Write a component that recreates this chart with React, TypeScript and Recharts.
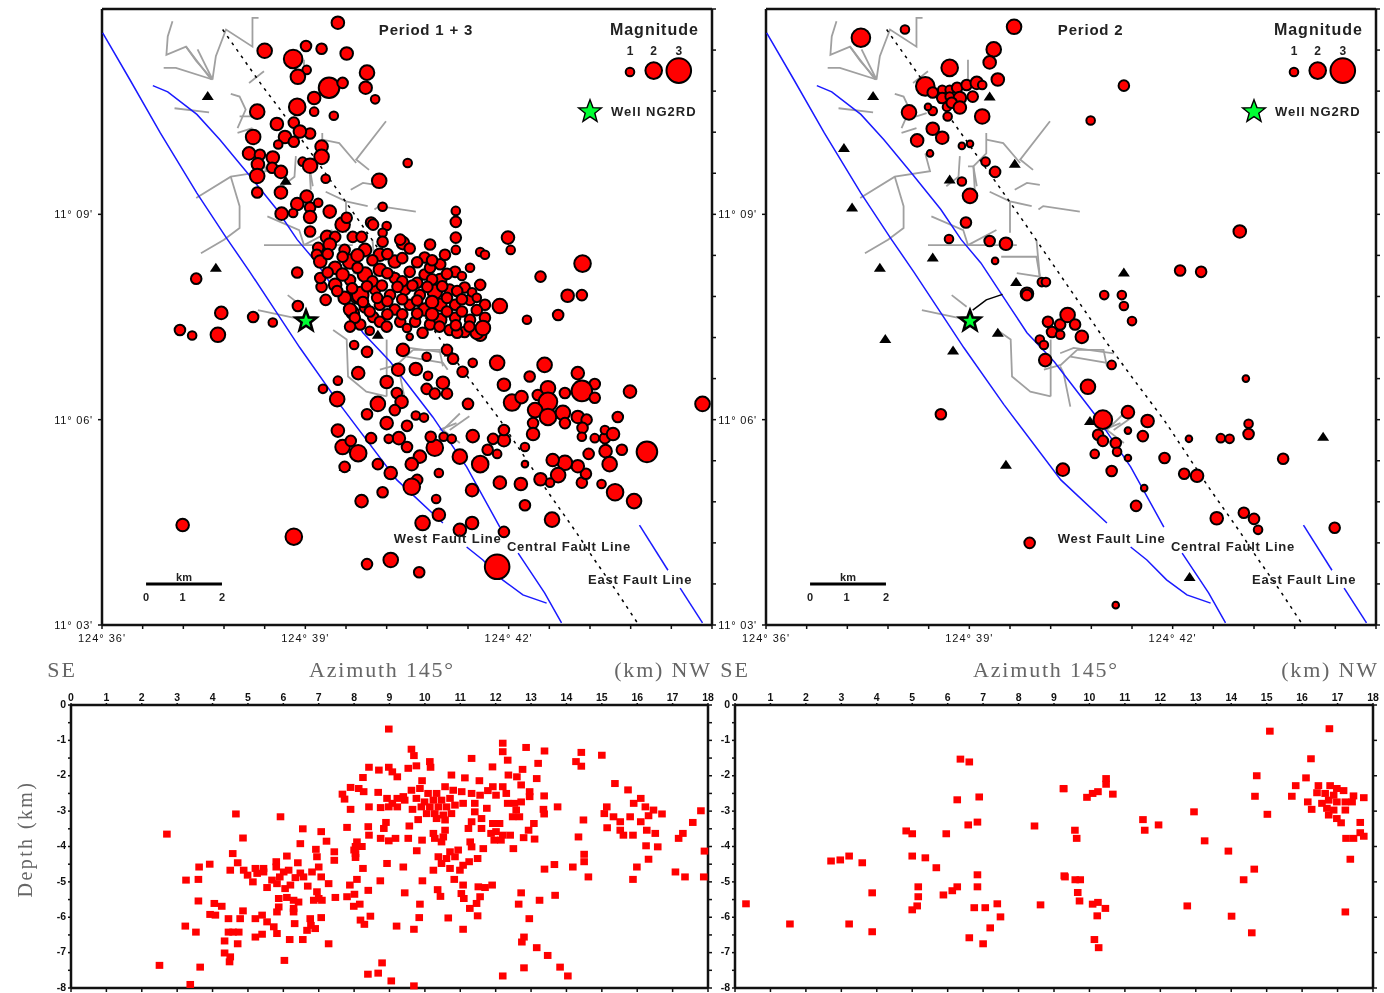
import React from 'react';
import { ScatterChart, Scatter, XAxis, YAxis } from 'recharts';

// ---- map events: [lon minutes past 124°, lat minutes past 11°, magnitude]
const eventsNorthP13 = [[39.48,11.8,1.5],[38.4,11.39,1.75],[39.01,11.46,1.25],[39.24,11.42,1.25],[39.61,11.35,1.5],[38.82,11.27,2.25],[39.02,11.11,1],[38.89,11.01,1.75],[39.91,11.07,1.75],[39.89,10.85,1.5],[39.35,10.85,2.5],[39.55,10.92,1.25],[39.13,10.7,1.5],[38.88,10.57,2],[39.13,10.5,1],[40.03,10.68,1],[38.29,10.5,1.75],[39.42,10.44,1],[38.58,10.32,1.5],[38.83,10.34,1.25],[38.23,10.13,1.75],[39.07,10.18,1.25],[38.92,10.21,1.5],[38.7,10.13,1.5],[38.83,10.06,1.25],[38.6,10.02,1],[39.24,9.99,1.5],[38.17,9.89,1.5],[38.33,9.87,1.25],[38.52,9.83,1.5],[38.3,9.73,1.5],[39.24,9.84,1.75],[38.96,9.77,1],[39.07,9.71,1.75],[38.51,9.68,1.25],[38.64,9.62,1.5],[38.29,9.56,1.75],[39.3,9.52,1],[38.29,9.32,1.25],[38.64,9.32,1.5],[39.02,9.26,1.5],[38.88,9.15,1.5],[38.82,9.02,1],[38.65,9.01,1.5],[39.07,9.1,1.25],[39.07,8.96,1.5],[39.19,9.17,1],[39.36,9.04,1.5],[39.55,8.85,1.75],[39.61,8.95,1.25],[39.97,8.88,1.25],[40.2,8.83,1],[40.09,9.49,1.75],[40.14,9.11,1],[40.51,9.75,1]];
const eventsCentreP13 = [[39.07,8.75,1.25],[39.32,8.67,1.5],[39.44,8.67,1.25],[39.7,8.67,1.25],[39.83,8.67,1.25],[40.14,8.73,1],[40.14,8.6,1.25],[40.44,8.58,1.5],[39.19,8.51,1.25],[39.17,8.41,1.25],[38.88,8.15,1.25],[37.39,8.06,1.25],[37.76,7.56,1.5],[38.23,7.5,1.25],[38.89,7.66,1.25],[39.24,7.94,1.25],[39.3,7.75,1.25],[39.78,7.81,2],[39.7,7.56,1.5],[40,7.5,1.25],[37.15,7.31,1.25],[37.33,7.23,1],[37.71,7.24,1.75],[38.52,7.42,1],[41.22,9.05,1],[41.22,8.89,1.25],[41.22,8.66,1.25],[41.22,8.48,1],[41.58,8.45,1],[41.99,8.66,1.5],[42.03,8.48,1],[42.47,8.09,1.25],[43.09,8.28,2],[42.87,7.81,1.5],[43.08,7.82,1.25],[42.73,7.53,1.25],[42.27,7.46,1],[41.87,7.66,1.75],
[39.36,8.56,1.5],[39.58,8.48,1.25],[39.22,8.31,1.5],[39.44,8.22,1.5],[39.66,8.31,1.75],[39.88,8.48,1.5],[40.1,8.41,1.5],[40.32,8.31,1.5],[40.54,8.5,1.25],[40.76,8.37,1.25],[40.99,8.27,1.25],[39.22,8.07,1.25],[39.44,7.97,1.5],[39.66,8.04,1.25],[39.88,8.12,1.75],[40.1,8.19,1.5],[40.32,8.07,1.25],[40.54,8.16,1.25],[40.76,8.12,1.25],[40.99,8.04,1.5],[41.21,8.16,1.25],[41.43,8.22,1],[41.65,8.41,1],[39.58,7.78,1.5],[39.81,7.82,2],[40.03,7.9,1.25],[40.25,7.82,1.25],[40.47,7.9,1.25],[40.69,7.82,1.25],[40.91,7.87,1.75],[41.13,7.9,1.25],[41.35,7.93,1.25],[41.58,7.97,1.25],[39.66,7.61,1.5],[39.88,7.64,1.25],[40.1,7.68,1.25],[40.32,7.61,1.25],[40.54,7.68,1.25],[40.76,7.61,1.5],[40.99,7.68,1.5],[41.21,7.68,1.25],[41.43,7.75,1.25],[41.65,7.68,1.25],[40.99,7.46,1.5],[41.21,7.49,1.25],[41.43,7.46,1.25],[41.65,7.49,1.25],[41.13,7.31,1.25],[41.35,7.28,1.25],[41.58,7.24,1.5],[40.84,7.39,1.25],[40.62,7.43,1.25],[40.4,7.43,1.25],[40.1,7.43,1.25],[39.81,7.39,1.25],[39.73,7.49,1.25],[40.84,8.22,1.25],[41.06,8.41,1.25],[40.84,8.56,1.25],[40.4,8.63,1.25],[40,8.85,1.25],[39.66,7.36,1.25],[40.2,7.36,1.25],[40.73,7.27,1.25],[40.44,7.02,1.5],[39.91,6.99,1.25],[39.72,7.09,1],[40.79,6.92,1],[41.09,7.02,1.25],[41.18,6.89,1.25],[40.54,7.21,0.75],[41.24,7.27,1.25],[41.53,7.27,1.5],[41.62,7.34,1.75]];
const eventsClusterP13 = [[39.33,8.42,1.25],[39.55,8.38,1.25],[39.77,8.4,1.5],[39.99,8.33,1.25],[40.21,8.42,1.25],[40.43,8.36,1.25],[40.65,8.3,1.25],[40.87,8.33,1.25],[39.33,8.15,1.25],[39.55,8.12,1.5],[39.77,8.22,1.25],[39.99,8.02,1.25],[40.21,8.14,1.25],[40.43,8.02,1.25],[40.65,8,1.25],[40.87,8.05,1.25],[41.09,8.13,1.25],[41.31,8.1,1],[39.47,7.88,1.25],[39.69,7.92,1.25],[39.91,7.95,1.25],[40.13,7.96,1.25],[40.36,7.94,1.25],[40.58,7.96,1.25],[40.8,7.94,1.25],[41.02,7.95,1.25],[41.24,7.88,1.25],[41.46,7.86,1],[39.85,7.72,1.25],[40.06,7.78,1.25],[40.21,7.73,1.25],[40.43,7.76,1.25],[40.65,7.74,1.25],[40.87,7.72,1.5],[41.09,7.78,1.25],[41.31,7.76,1.25],[41.53,7.78,1],[39.95,7.58,1.25],[40.21,7.54,1.25],[40.43,7.54,1.25],[40.65,7.55,1.25],[40.87,7.54,1.5],[41.09,7.58,1.25],[41.31,7.58,1.25],[41.53,7.6,1.25],[40.98,7.36,1.25],[41.22,7.38,1.25],[41.42,7.36,1.25],[40.5,7.34,1],[39.95,7.3,1]];
const eventsSouthP13 = [[41.83,6.83,1.75],[41.47,6.83,1],[42.53,6.8,1.75],[42.31,6.63,1.25],[41.32,6.7,1.25],[41.93,6.51,1.5],[39.78,6.68,1.5],[39.48,6.57,1],[39.26,6.45,1],[39.47,6.3,1.75],[40.2,6.55,1.5],[40.37,6.73,1.5],[40.63,6.74,1.5],[40.81,6.64,1],[41.03,6.54,1.5],[40.79,6.45,1.25],[40.91,6.38,1.25],[41.09,6.38,1.25],[41.4,6.23,1.25],[42.05,6.25,2],[42.19,6.33,1.5],[43.79,6.41,1.5],[44.86,6.23,1.75],[43.02,6.68,1.5],[43.27,6.52,1.25],[43.08,6.42,2.5],[42.58,6.46,1.75],[42.43,6.36,1.25],[42.83,6.39,1.25],[42.58,6.26,2.25],[42.39,6.14,1.75],[42.58,6.04,2],[42.8,6.1,1.75],[43.02,6.04,1.5],[43.27,6.32,1.25],[43.15,6,1.25],[42.83,5.95,1.25],[42.36,5.95,1.25],[42.36,5.79,1.5],[43.09,5.88,1.25],[43.08,5.75,1],[43.27,5.73,1],[43.42,5.73,1.25],[43.42,5.85,1],[43.54,5.79,1.5],[43.61,6.04,1.25],[43.43,5.54,1.5],[43.67,5.56,1.25],[43.18,5.5,1.25],[43.49,5.35,1.75],[44.04,5.53,2.5],[43.37,5.06,1],[43.57,4.94,2],[43.85,4.81,1.75],[43.08,5.08,1.25],[43.14,5.21,1.25],[43.02,5.32,1.5],[42.83,5.37,1.75],[42.65,5.41,1.5],[42.73,5.19,1.75],[42.47,5.13,1.5],[42.61,5.08,1],[42.18,5.06,1.5],[41.87,5.08,1.5],[42.24,4.75,1.25],[42.64,4.54,1.75],[41.93,5.7,1.5],[41.93,5.85,1.25],[41.77,5.72,1.25],[41.69,5.56,1.25],[41.83,5.5,1],[41.47,5.76,1.5],[42.24,5.6,1],[42.24,5.35,0.75],[41.58,5.35,2],[41.28,5.46,1.75],[40.91,5.59,2],[40.85,5.75,1.25],[41.04,5.75,1],[41.16,5.72,1],[40.69,5.46,1.5],[40.57,5.35,1.5],[40.65,5.12,1.25],[40.57,5.02,2],[40.97,5.22,1],[40.26,5.22,1.5],[40.07,5.35,1.25],[39.78,5.51,2],[39.55,5.6,1.75],[39.67,5.69,1.25],[39.48,5.84,1.5],[39.97,5.73,1.25],[40.2,5.95,1.5],[40.07,6.23,1.75],[39.91,6.08,1.25],[40.35,6.39,1.25],[40.42,6.26,1.5],[40.32,6.14,1.25],[40.63,6.06,1],[40.75,6.03,1],[40.5,5.91,1.25],[40.38,5.73,1.5],[40.5,5.6,1.25],[40.23,5.72,1],[39.58,5.31,1.25],[39.83,4.81,1.5],[40.14,4.94,1.25],[40.93,4.84,1],[41.46,4.97,1.5],[40.97,4.61,1.5],[40.73,4.49,1.75],[41.28,4.39,1.5],[41.46,4.49,1.5],[41.93,4.36,1.25],[41.83,3.85,3],[39.91,3.89,1.25],[40.26,3.95,1.75],[40.68,3.77,1.25],[38.83,4.29,2],[37.19,4.46,1.5]];
const eventsP2 = [[38.05,11.7,1],[37.4,11.58,2.25],[39.66,11.74,1.75],[39.36,11.41,1.75],[39.3,11.22,1.5],[38.71,11.14,2],[39.42,10.97,1.5],[38.35,10.87,2.25],[38.46,10.78,1.25],[38.6,10.82,1],[38.71,10.82,1],[38.82,10.85,1.25],[38.96,10.89,1.25],[39.11,10.92,1.5],[39.19,10.89,1],[38.6,10.7,1.25],[38.71,10.72,1],[38.86,10.7,1.5],[39.05,10.72,1.25],[38.67,10.57,1],[38.74,10.63,1.25],[38.86,10.56,1.5],[38.68,10.43,1],[38.46,10.51,1],[38.39,10.57,0.75],[38.11,10.49,1.75],[39.19,10.43,1.75],[38.46,10.25,1.5],[38.6,10.12,1.5],[38.23,10.08,1.5],[38.42,9.89,0.75],[38.89,10,0.75],[39.01,10.03,0.75],[39.24,9.77,1],[39.38,9.62,1.25],[38.89,9.48,1],[39.01,9.27,1.75],[38.95,8.88,1.25],[38.7,8.64,1],[39.3,8.61,1.25],[39.54,8.57,1.5],[39.38,8.32,0.75],[40.07,8.01,1],[39.85,7.84,1.5],[40.16,7.43,1.25],[40.34,7.39,1.25],[40.45,7.53,1.75],[40.56,7.39,1.25],[40.04,7.17,1],[40.22,7.28,1.25],[40.66,7.21,1.5],[40.12,6.87,1.5],[40.1,7.09,1],[40.34,7.24,1],[41.1,6.8,1],[39.85,7.82,1.25],[40.13,8.01,1],[40.99,7.82,1],[41.25,7.82,1],[41.28,7.66,1],[41.4,7.44,1],[42.11,8.18,1.25],[42.42,8.16,1.25],[42.99,8.75,1.5],[41.28,10.88,1.25],[40.79,10.37,1],[40.75,6.48,1.75],[41.34,6.11,1.5],[41.63,5.98,1.5],[40.97,6,2.25],[41.34,5.84,0.75],[41.56,5.76,1.25],[40.9,5.78,1.25],[40.97,5.69,1.25],[41.16,5.66,1.25],[41.18,5.53,1],[40.85,5.5,1],[41.34,5.44,0.75],[41.88,5.44,1.25],[41.1,5.25,1.25],[40.38,5.27,1.5],[41.58,5,0.75],[41.46,4.74,1.25],[42.24,5.72,0.75],[42.71,5.73,1],[42.84,5.72,1],[43.08,6.6,0.75],[43.12,5.94,1],[43.12,5.79,1.25],[43.63,5.43,1.25],[42.17,5.21,1.25],[42.36,5.18,1.5],[42.65,4.56,1.5],[43.05,4.64,1.25],[43.2,4.55,1.25],[43.26,4.39,1],[44.39,4.42,1.25],[41.16,3.29,0.75],[39.89,4.2,1.25],[38.58,6.08,1.25]];

// ---- stations
const stationsP13 = [[37.56,10.73],[37.68,8.22],[38.71,9.49],[39.58,5.31],[40.07,7.24],[41.13,6.98]];
const stationsP2 = [[37.58,10.73],[37.15,9.97],[37.27,9.1],[38.46,8.37],[37.68,8.22],[39.67,9.74],[38.71,9.51],[39.69,8.01],[37.76,7.18],[38.76,7.01],[39.42,7.27],[39.54,5.34],[40.78,5.98],[44.22,5.75],[42.25,3.7],[39.3,10.72],[41.28,8.15]];

// ---- fault traces
const westFault1 = [[36.01,11.65],[36.41,10.97],[36.86,10.19],[37.4,9.31],[37.84,8.65],[38.18,8.16],[38.58,7.56],[38.92,7.05],[39.51,6.22],[40.35,5.12],[41.03,4.49]];
const westFault2 = [[41.38,4.14],[41.62,3.95],[41.91,3.66],[42.21,3.44],[42.56,3.32]];
const centralFault1 = [[36.75,10.88],[36.97,10.79],[37.4,10.46],[37.74,10.09],[38.14,9.61],[38.58,9.07],[38.88,8.63],[39.17,8.29],[39.61,7.63],[39.85,7.27],[40.25,6.85],[40.88,6.04],[41.38,5.31],[41.87,4.43]];
const centralFault2 = [[42.14,4.05],[42.53,3.47],[42.78,3.03]];
const blackFault = [[37.78,11.7],[38.37,10.87],[38.63,10.53],[39.47,9.36],[39.81,8.88],[41.03,7.12],[41.43,6.58],[41.87,6],[42.56,4.97],[43,4.35],[43.24,3.99],[43.6,3.48],[43.9,3.03]];
const eastFault1 = [[43.93,4.46],[44.35,3.8]];
const eastFault2 = [[44.53,3.54],[44.86,3.03]];
const wellLink = [[39.05,7.6],[39.25,7.75],[39.49,7.83]];

// ---- drainage
const rivers = [
  [[37.04,11.82],[36.97,11.6],[36.95,11.33],[37.24,11.45],[37.61,10.97]],
  [[37.24,11.45],[37.39,11.24],[37.63,10.97]],
  [[37.41,11.41],[37.63,10.97]],
  [[36.91,11.14],[37.09,11.14],[37.63,10.97]],
  [[37.63,10.97],[37.68,11.31],[37.83,11.7],[38.22,11.45],[38.22,11.87],[38.31,11.87]],
  [[37.07,10.55],[37.58,10.49]],
  [[37.9,10.76],[38.03,10.72],[38.12,10.53],[38,10.26]],
  [[38,10.19],[38.22,10.26]],
  [[38.39,11.09],[38.17,10.92]],
  [[38.37,10.48],[38.22,10.43],[38.03,10.43]],
  [[38.98,11.26],[38.98,10.94]],
  [[40.19,10.36],[39.75,9.8],[39.94,9.65]],
  [[39.25,10.19],[39.25,9.89],[39.06,9.7],[39.11,9.41]],
  [[39.25,10.09],[39.5,10.04],[39.75,9.75]],
  [[37.39,9.24],[37.9,9.55],[38.42,9.63],[38.35,9.89]],
  [[37.9,9.55],[38.03,9.12],[38.03,8.8],[37.8,8.63],[37.46,8.43]],
  [[38.86,9.85],[38.84,9.55],[38.66,9.41]],
  [[38.98,9.7],[39.06,9.7],[39.08,9.36]],
  [[39.3,9.33],[39.6,9.19],[39.92,9.12]],
  [[39.6,9.19],[39.6,8.73]],
  [[39.67,9.36],[39.85,9.46],[40.04,9.43]],
  [[40.02,9.07],[40.09,9.12],[40.63,9.04]],
  [[38.44,8.97],[38.91,8.77],[38.98,8.55]],
  [[38.39,8.55],[39.7,8.55]],
  [[38.98,8.55],[39.4,8.77]],
  [[39.47,8.38],[39.99,8.38],[40.04,8.09],[39.7,8.14]],
  [[39.99,8.63],[40.04,8.09]],
  [[38.74,7.82],[38.96,7.65]],
  [[38.3,7.6],[38.96,7.46]],
  [[39.41,7.31],[39.61,7.17],[39.63,6.63],[39.9,6.41],[40.2,6.34]],
  [[40.2,7.17],[40.2,6.34]],
  [[40.59,7.02],[40.98,7.02],[41.03,6.78]],
  [[40.1,6.73],[40.35,6.8],[40.59,7.02]],
  [[41.28,6.09],[41.03,5.85],[41.28,5.66]],
  [[40.98,5.85],[41.23,5.95]],
  [[40.34,6.97],[40.54,7.05],[41.13,6.97]],
  [[40.49,6.92],[41.03,6.83],[41.1,6.73]],
  [[40.34,6.78],[40.39,6.68],[40.49,6.19]],
  [[41.13,5.85],[41.42,6.05]],
];

// ---- map annotations
const legendDots = [[43.79,11.08,1],[44.14,11.1,2],[44.51,11.1,3]];
const legendNumbers = [{x:43.79,y:11.39,text:'1'},{x:44.14,y:11.39,text:'2'},{x:44.51,y:11.39,text:'3'}];
const faultLabels = [{x:41.1,y:4.27,text:'West Fault Line'},{x:42.89,y:4.15,text:'Central Fault Line'},{x:43.94,y:3.66,text:'East Fault Line'}];
const scaleBar = [[36.65,3.6],[37.77,3.6]];
const scaleLabels = [{x:37.21,y:3.7,text:'km'},{x:36.65,y:3.41,text:'0'},{x:37.19,y:3.41,text:'1'},{x:37.77,y:3.41,text:'2'}];
const mapLonTicks = [36,36.6,37.2,37.8,38.4,39,39.6,40.2,40.8,41.4,42,42.6,43.2,43.8,44.4,45];
const mapLatMajor = [3,6,9];
const mapLatMinor = [3,3.6,4.2,4.8,5.4,6,6.6,7.2,7.8,8.4,9,9.6,10.2,10.8,11.4,12];
const mapCorners = [[36,3],[45,12]];

// ---- sections: [distance km, depth km]
const sectionP13a = [[4.66,3.08],[5.92,3.16],[2.71,3.65],[6.55,3.5],[7.07,3.58],[7.8,3.46],[4.86,3.76],[6.48,3.92],[7.22,3.85],[6.92,4.08],[6.95,4.29],[7.44,4.15],[7.44,4.39],[4.57,4.2],[6.1,4.27],[3.92,4.5],[3.62,4.58],[4.71,4.46],[6.41,4.46],[5.8,4.43],[5.8,4.58],[4.5,4.67],[4.88,4.67],[5.21,4.62],[5.44,4.62],[4.99,4.81],[5.44,4.72],[5.26,4.76],[6.01,4.72],[6.15,4.67],[5.9,4.86],[6.48,4.75],[6.34,4.88],[6.57,4.86],[6.81,4.72],[7,4.58],[7.07,4.86],[3.25,4.95],[3.6,4.93],[5.14,5],[5.68,4.95],[5.54,5.16],[5.82,5.05],[6.05,5.19],[6.2,5.09],[7.28,5.05],[6.69,5.12],[8.08,4.93],[7.88,5.09],[8.74,4.97],[8.4,5.24],[8.93,4.48],[8.25,4.62],[8.04,4.2],[8.04,4],[8.22,4],[8.08,3.87],[8,4.1],[8.04,4.31],[3.6,5.54],[4.05,5.61],[4.26,5.69],[3.93,5.92],[4.08,5.94],[4.45,6.04],[4.86,5.82],[4.78,6.04],[5.87,5.47],[5.87,5.71],[5.82,5.85],[6.1,5.44],[6.29,5.52],[6.29,5.75],[6.29,5.85],[6.43,5.57],[6.95,5.28],[7,5.47],[6.86,5.52],[7.09,5.52],[7.47,5.44],[7.8,5.42],[8.01,5.35],[7.99,5.69],[8.16,5.63],[5.21,6.04],[5.4,5.94],[5.54,6.13],[5.73,6.27],[5.82,6.46],[3.23,6.25],[3.53,6.42],[4.45,6.42],[4.58,6.42],[4.74,6.42],[4.34,6.67],[4.71,6.75],[5.21,6.56],[5.4,6.48],[6.32,6.18],[6.76,6.04],[6.78,6.23],[7.07,6.01],[6.67,6.37],[6.9,6.32],[6.18,6.63],[6.55,6.63],[7.28,6.75],[8.18,6.08],[8.29,6.2],[8.46,5.97],[9.2,6.25],[4.34,7.01],[4.5,7.12],[4.48,7.26],[6.03,7.22],[2.5,7.36],[3.65,7.41],[3.37,7.9],[8.79,7.29],[8.39,7.61],[8.68,7.58],[9.05,7.8],[8.42,1.76],[8.7,1.84],[8.98,1.76],[9.08,1.89],[9.22,2.03],[8.25,2.05],[7.9,2.33],[8.13,2.36],[8.27,2.45],[8.68,2.47],[7.67,2.52],[7.73,2.66],[7.9,2.95],[8.42,2.88],[8.75,2.9],[8.93,2.64],[9.08,2.78],[9.22,2.64],[8.98,2.88],[9.22,2.88],[8.4,3.44],[8.42,3.68],[8.9,3.32],[8.84,3.49],[8.75,3.77],[8.98,3.84],[9.17,3.77],[8.98,0.68]];
const sectionP13b = [[9.62,1.25],[9.69,1.43],[9.76,1.72],[9.53,1.79],[10.14,1.6],[10.16,1.76],[12.2,1.08],[12.2,1.32],[12.34,1.56],[12.86,1.2],[13.38,1.3],[11.32,1.51],[11.91,1.75],[13.2,1.65],[12.76,1.82],[12.36,1.98],[12.6,2.03],[13.16,2.08],[10.75,1.98],[11.13,2.06],[11.54,2.14],[9.92,2.14],[14.42,1.34],[14.27,1.6],[14.42,1.73],[15,1.42],[15.37,2.22],[15.74,2.4],[9.39,2.59],[9.62,2.41],[9.86,2.36],[10.09,2.5],[10.33,2.5],[10.57,2.31],[10.8,2.41],[11.04,2.45],[11.32,2.5],[11.56,2.55],[9.43,2.69],[9.76,2.64],[9.99,2.74],[10.24,2.69],[10.47,2.69],[10.71,2.64],[9.9,2.88],[10.14,2.88],[10.38,2.88],[10.61,2.88],[10.85,2.83],[11.08,2.78],[11.41,2.78],[11.75,2.92],[9.65,2.95],[10.05,3.07],[10.28,3.07],[10.52,3.11],[10.75,3.07],[9.81,3.24],[10.33,3.21],[10.57,3.25],[11.41,3.02],[11.92,2.31],[12.2,2.31],[12.01,2.55],[12.3,2.5],[11.78,2.42],[12.53,2.78],[12.72,2.74],[12.96,2.59],[12.96,2.45],[12.72,2.26],[12.58,2.97],[12.67,3.16],[12.48,3.16],[12.34,2.78],[13.37,2.57],[13.35,2.95],[13.37,3.08],[13.75,2.88],[11.32,3.3],[11.6,3.21],[11.6,3.49],[11.23,3.49],[9.56,3.42],[9.53,3.77],[9.92,3.82],[10.24,3.63],[10.57,3.54],[10.28,3.77],[10.47,3.87],[10.52,3.73],[11.28,3.87],[11.92,3.35],[12.11,3.35],[11.87,3.63],[12.01,3.58],[12.2,3.68],[12.41,3.68],[11.96,3.82],[12.15,3.82],[12.79,3.75],[12.93,3.54],[13.08,3.35],[13.1,3.79],[12.5,4.06],[9.77,4.12],[10.71,4.15],[10.94,4.1],[11.32,4.01],[11.65,4.06],[10.38,4.29],[10.61,4.34],[10.85,4.29],[11.49,4.34],[11.25,4.43],[10.47,4.48],[10.24,4.67],[10.71,4.62],[10.99,4.67],[11.08,4.53],[9.39,4.58],[9.93,4.97],[10.83,4.93],[11.08,5.09],[11.51,5.14],[11.9,5.09],[11.7,5.16],[9.43,5.31],[10.36,5.22],[10.44,5.41],[11.03,5.33],[11.1,5.47],[11.56,5.42],[11.46,5.61],[11.27,5.75],[11.49,5.96],[9.86,5.63],[9.84,6.01],[10.66,6.02],[9.69,6.34],[11.08,6.34],[13.66,4.51],[13.38,4.64],[14.18,4.58],[14.62,4.86],[14.5,4.22],[14.5,4.43],[14.34,3.73],[14.48,3.25],[12.72,5.31],[12.65,5.63],[13.24,5.52],[13.68,5.38],[12.95,6.04],[12.8,6.56],[12.74,6.7],[13.16,6.86],[13.47,7.08],[12.8,7.43],[13.82,7.41],[14.04,7.66],[12.2,7.66],[9.69,7.94],[15.14,2.88],[15.07,3.07],[15.15,3.47],[15.33,3.16],[15.52,3.3],[15.52,3.54],[15.61,3.68],[15.88,3.68],[15.8,3.16],[15.9,2.78],[16.1,2.64],[16.23,2.88],[16.46,2.97],[16.7,3.08],[16.32,3.13],[16.1,3.3],[16.27,3.54],[16.51,3.63],[16.25,3.98],[16.58,4.01],[16.32,4.36],[15.99,4.58],[15.88,4.93],[17.08,4.72],[17.35,4.86],[17.88,4.86],[17.9,4.13],[17.57,3.32],[17.8,2.99],[17.29,3.63],[17.17,3.77]];
const sectionP2 = [[15.09,0.74],[16.77,0.67],[16.25,1.52],[14.72,2],[16.11,2.06],[15.82,2.28],[14.67,2.58],[15.71,2.58],[16.16,2.74],[16.27,2.95],[15.02,3.09],[16.46,2.28],[16.79,2.28],[16.98,2.36],[17.17,2.42],[16.42,2.48],[16.65,2.5],[16.89,2.55],[16.56,2.78],[16.75,2.69],[16.98,2.74],[17.22,2.74],[17.45,2.57],[17.74,2.62],[16.7,2.92],[16.89,2.97],[17.22,2.97],[16.75,3.11],[16.98,3.21],[17.1,3.33],[17.41,2.74],[17.64,3.32],[17.64,3.61],[17.74,3.71],[17.24,3.77],[17.45,3.77],[17.36,4.36],[17.22,5.85],[10.47,2.08],[10.47,2.24],[10.24,2.45],[10.09,2.5],[10.66,2.52],[9.93,2.61],[9.27,2.36],[11.51,3.24],[11.95,3.39],[11.56,3.54],[12.95,3.02],[13.25,3.84],[13.92,4.13],[14.65,4.64],[14.35,4.94],[12.76,5.68],[14.01,5.97],[14.58,6.44],[9.59,3.54],[9.64,3.77],[9.31,4.86],[9.74,4.94],[9.67,5.3],[9.72,5.54],[10.09,5.63],[10.24,5.58],[10.45,5.75],[10.22,5.96],[10.14,6.63],[10.26,6.86],[0.31,5.62],[1.55,6.19],[2.71,4.41],[2.97,4.38],[3.22,4.27],[3.59,4.46],[3.87,5.31],[3.22,6.19],[3.87,6.41],[4.83,3.56],[5,3.64],[5.96,3.64],[5,4.27],[5.37,4.32],[5.68,4.6],[5.17,5.14],[6.27,5.14],[5.88,5.37],[6.13,5.25],[5.17,5.42],[5.14,5.68],[5,5.79],[6.36,1.53],[6.61,1.61],[6.27,2.68],[6.89,2.6],[6.84,3.31],[6.58,3.39],[6.84,4.8],[6.84,5.14],[6.75,5.73],[7.06,5.73],[7.4,5.62],[7.49,5.99],[7.2,6.3],[6.61,6.58],[7,6.75],[8.62,5.65],[8.45,3.42],[9.27,2.37],[9.29,4.83],[9.6,4.94]];
const sectionDistanceTicks = [0,1,2,3,4,5,6,7,8,9,10,11,12,13,14,15,16,17,18];
const sectionDepthMajor = [0,-1,-2,-3,-4,-5,-6,-7,-8];
const sectionDepthMinor = [0,-0.5,-1,-1.5,-2,-2.5,-3,-3.5,-4,-4.5,-5,-5.5,-6,-6.5,-7,-7.5,-8];
const sectionCorners = [[0,-8],[18,0]];

const pts = (a: number[][]) => a.map(([x, y]) => ({ x, y }));
const evs = (a: number[][]) => a.map(([x, y, m]) => ({ x, y, m }));
const sect = (a: number[][]) => a.map(([x, d]) => ({ x, y: -d }));

const SANS = '"Liberation Sans", Arial, sans-serif';
const SERIF = '"Liberation Serif", serif';
const none = () => <g />;
const lonTickFont = { fontSize: 11, fontFamily: SANS, fill: '#111', letterSpacing: 1, dy: 3 };
const latTickFont = { fontSize: 11, fontFamily: SANS, fill: '#111', letterSpacing: 0.8, dx: -3 };
const smallTick = { fontSize: 10.5, fontFamily: SANS, fill: '#111', fontWeight: 700 };
const depthTick = { fontSize: 10.5, fontFamily: SANS, fill: '#111', fontWeight: 700, dy: -1 };
const axisLn = { stroke: '#111', strokeWidth: 2.5 };
const tickLn = { stroke: '#111', strokeWidth: 1.5 };
const noText = () => '';

const quake = (p: any) => (
  <circle cx={p.cx} cy={p.cy} r={p.payload.m * 4 + 0.3} fill="#ff0000" stroke="#000" strokeWidth={2} />
);
const station = (p: any) => (
  <path d={`M${p.cx} ${p.cy - 5}L${p.cx + 6} ${p.cy + 4}L${p.cx - 6} ${p.cy + 4}Z`} fill="#000" />
);
const starPath = (cx: number, cy: number, R: number) => {
  let d = '';
  for (let i = 0; i < 10; i++) {
    const r = i % 2 ? R * 0.42 : R;
    const a = -Math.PI / 2 + (i * Math.PI) / 5;
    d += `${i ? 'L' : 'M'}${cx + r * Math.cos(a)} ${cy + r * Math.sin(a)}`;
  }
  return d + 'Z';
};
const star = (p: any) => <path d={starPath(p.cx, p.cy, 12)} fill="#00ff33" stroke="#000" strokeWidth={1.4} />;
const wellStar = (p: any) => <path d={starPath(p.cx, p.cy, 11)} fill="#00ff33" stroke="#000" strokeWidth={2.6} />;
const label = (st: any) => (p: any) => (
  <text x={p.cx} y={p.cy} textAnchor="middle" dominantBaseline="central" {...st}>{p.payload.text}</text>
);
const leftLabel = (st: any) => (p: any) => (
  <text x={p.cx} y={p.cy} textAnchor="start" dominantBaseline="central" {...st}>{p.payload.text}</text>
);
const square = (p: any) => <rect x={p.cx - 3.8} y={p.cy - 3.5} width={7.6} height={7} fill="#ff0000" />;

const Trace = ({ data, stroke, width, dash }: any) => (
  <Scatter data={pts(data)} isAnimationActive={false} shape={none} line={{ stroke, strokeWidth: width, strokeDasharray: dash }} lineType="joint" />
);

const labelInk = { fontFamily: SANS, fontWeight: 700, fill: '#222' };

const MapPanel = ({ left, title, titleLon, events, stations, link }: any) => (
  <div style={{ position: 'absolute', left, top: 0 }}>
    <ScatterChart width={720} height={660} margin={{ top: 8, right: 2, bottom: 5, left: 54 }}>
      <XAxis type="number" dataKey="x" domain={[36, 45]} ticks={mapLonTicks} interval={0} height={30} tick={lonTickFont} tickLine={tickLn} axisLine={axisLn} tickSize={4}
        tickFormatter={(v: number) => ([36, 39, 42].includes(v) ? `124° ${v}'` : '')} />
      <XAxis xAxisId="top" orientation="top" type="number" dataKey="x" domain={[36, 45]} height={1} tick={false} tickLine={false} axisLine={axisLn} />
      <YAxis type="number" dataKey="y" domain={[3, 12]} ticks={mapLatMajor} interval={0} width={48} tick={latTickFont} tickLine={tickLn} axisLine={axisLn} tickSize={4}
        tickFormatter={(v: number) => `11° 0${v}'`} />
      <YAxis yAxisId="right" orientation="right" type="number" dataKey="y" domain={[3, 12]} ticks={mapLatMinor} interval={0} width={6} tick={latTickFont} tickFormatter={noText} tickLine={tickLn} axisLine={axisLn} tickSize={4} />
      <Scatter xAxisId="top" yAxisId="right" data={pts(mapCorners)} isAnimationActive={false} shape={none} />
      {rivers.map((r, i) => <Scatter key={i} data={pts(r)} isAnimationActive={false} shape={none} line={{ stroke: '#a0a0a0', strokeWidth: 1.8 }} lineType="joint" />)}
      {Trace({ data: westFault1, stroke: '#1a1aff', width: 1.5 })}
      {Trace({ data: westFault2, stroke: '#1a1aff', width: 1.5 })}
      {Trace({ data: centralFault1, stroke: '#1a1aff', width: 1.5 })}
      {Trace({ data: centralFault2, stroke: '#1a1aff', width: 1.5 })}
      {Trace({ data: eastFault1, stroke: '#1a1aff', width: 1.5 })}
      {Trace({ data: eastFault2, stroke: '#1a1aff', width: 1.5 })}
      {Trace({ data: blackFault, stroke: '#000', width: 1.5, dash: '3 5' })}
      {link ? Trace({ data: wellLink, stroke: '#000', width: 1.5 }) : null}
      <Scatter data={pts(stations)} isAnimationActive={false} shape={station} />
      {events.map((e: number[][], i: number) => <Scatter key={`e${i}`} data={evs(e)} isAnimationActive={false} shape={quake} />)}
      <Scatter data={pts([[39.01, 7.44]])} isAnimationActive={false} shape={wellStar} />
      <Scatter data={pts([[43.2, 10.5]])} isAnimationActive={false} shape={star} />
      <Scatter data={evs(legendDots)} isAnimationActive={false} shape={quake} />
      <Scatter data={[{ x: titleLon, y: 11.7, text: title }]} isAnimationActive={false} shape={label({ ...labelInk, fontSize: 15, letterSpacing: 0.8 })} />
      <Scatter data={[{ x: 44.15, y: 11.7, text: 'Magnitude' }]} isAnimationActive={false} shape={label({ ...labelInk, fontSize: 16, letterSpacing: 1 })} />
      <Scatter data={legendNumbers} isAnimationActive={false} shape={label({ ...labelInk, fontSize: 12 })} />
      <Scatter data={[{ x: 43.51, y: 10.5, text: 'Well NG2RD' }]} isAnimationActive={false} shape={leftLabel({ ...labelInk, fontSize: 13, letterSpacing: 1 })} />
      <Scatter data={faultLabels} isAnimationActive={false} shape={label({ ...labelInk, fontSize: 13, letterSpacing: 0.8 })} />
      {Trace({ data: scaleBar, stroke: '#000', width: 3 })}
      <Scatter data={scaleLabels} isAnimationActive={false} shape={label({ ...labelInk, fontSize: 11 })} />
    </ScatterChart>
  </div>
);

const SectionPanel = ({ left, width, right, series, rightTicks }: any) => (
  <div style={{ position: 'absolute', left, top: 680 }}>
    <ScatterChart width={width} height={313} margin={{ top: 11, right, bottom: 0, left: 0 }}>
      <XAxis type="number" dataKey="x" domain={[0, 18]} ticks={sectionDistanceTicks} interval={0} height={5} tick={smallTick} tickFormatter={noText} tickLine={tickLn} axisLine={axisLn} tickSize={4} />
      <XAxis xAxisId="top" orientation="top" type="number" dataKey="x" domain={[0, 18]} ticks={sectionDistanceTicks} interval={0} height={14} tick={smallTick} tickLine={tickLn} axisLine={axisLn} tickSize={2} />
      <YAxis type="number" dataKey="y" domain={[-8, 0]} ticks={sectionDepthMinor} interval={0} width={40} tick={depthTick} tickLine={tickLn} axisLine={axisLn} tickSize={3}
        tickFormatter={(v: number) => (Number.isInteger(v) ? String(v) : '')} />
      <YAxis yAxisId="right" orientation="right" type="number" dataKey="y" domain={[-8, 0]} ticks={rightTicks} interval={0} width={6} tick={smallTick} tickFormatter={noText} tickLine={tickLn} axisLine={axisLn} tickSize={4} />
      <Scatter xAxisId="top" yAxisId="right" data={pts(sectionCorners)} isAnimationActive={false} shape={none} />
      {series.map((s: number[][], i: number) => <Scatter key={i} data={sect(s)} isAnimationActive={false} shape={square} />)}
    </ScatterChart>
  </div>
);

const headStyle: any = { position: 'absolute', top: 670, transform: 'translate(-50%,-50%)', fontFamily: SERIF, fontSize: 22, letterSpacing: 1.8, color: '#666', whiteSpace: 'nowrap' };

export default function App() {
  return (
    <div style={{ position: 'absolute', left: 0, top: 0, width: 1384, height: 993, overflow: 'hidden', background: '#fff', filter: 'blur(0.45px)' }}>
      <MapPanel left={0} title="Period 1 + 3" titleLon={40.78} events={[eventsNorthP13, eventsCentreP13, eventsClusterP13, eventsSouthP13]} stations={stationsP13} />
      <MapPanel left={664} title="Period 2" titleLon={40.79} events={[eventsP2]} stations={stationsP2} link />
      <SectionPanel left={31} width={689} right={6} series={[sectionP13a, sectionP13b]} rightTicks={sectionDepthMinor} />
      <SectionPanel left={695} width={689} right={5} series={[sectionP2]} rightTicks={sectionDepthMajor} />
      <div style={{ ...headStyle, left: 62 }}>SE</div>
      <div style={{ ...headStyle, left: 382 }}>Azimuth 145°</div>
      <div style={{ ...headStyle, left: 663 }}>(km) NW</div>
      <div style={{ ...headStyle, left: 735 }}>SE</div>
      <div style={{ ...headStyle, left: 1046 }}>Azimuth 145°</div>
      <div style={{ ...headStyle, left: 1330 }}>(km) NW</div>
      <div style={{ ...headStyle, left: 25, top: 839, transform: 'translate(-50%,-50%) rotate(-90deg)', fontSize: 20, letterSpacing: 2.4 }}>Depth (km)</div>
    </div>
  );
}
